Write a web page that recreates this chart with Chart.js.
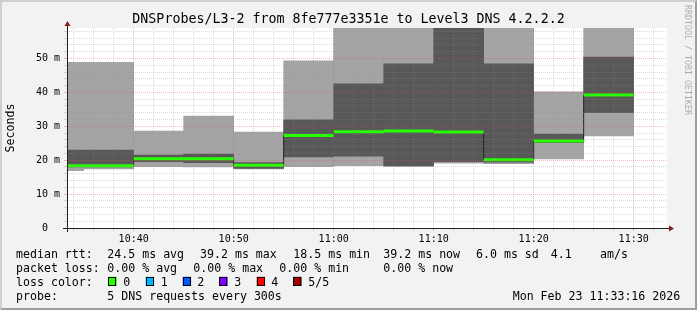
<!DOCTYPE html>
<html>
<head>
<meta charset="utf-8">
<script src="https://cdn.jsdelivr.net/npm/chart.js@4.4.1/dist/chart.umd.min.js"></script>
<style>
  html, body { margin: 0; padding: 0; background: #f2f2f2; }
  #wrap { width: 697px; height: 310px; position: relative; }
  canvas { display: block; }
</style>
</head>
<body>
<div id="wrap"><canvas id="c" width="697" height="310"></canvas></div>
<script>
// ---------- data ----------
const TITLE = 'DNSProbes/L3-2 from 8fe777e3351e to Level3 DNS 4.2.2.2';
const Y_TITLE = 'Seconds';
const STEP_SEC = 300;
const RANGE_START = '10:33:20';
const RANGE_END = '11:33:20';
const Y_MAX = 59;
const STEP_STARTS = ['10:30','10:35','10:40','10:45','10:50','10:55','11:00','11:05','11:10','11:15','11:20','11:25'];
const PING_MIN  = [16.9, 17.4, 18.1, 18.0, 17.4, 18.1, 18.4, 18.2, 19.1, 19.0, 20.4, 27.2];
const PING_LOW  = [18.0, 18.0, 19.6, 19.3, 17.6, 21.0, 21.2, 18.3, 19.6, 19.4, 25.2, 34.0];
const MEDIAN    = [18.4, 18.4, 20.4, 20.4, 18.5, 27.3, 28.4, 28.6, 28.3, 20.1, 25.7, 39.2];
const PING_HIGH = [23.0, 23.0, 21.5, 21.8, 19.3, 31.9, 42.5, 48.4, 61.5, 48.4, 27.7, 50.4];
const PING_MAX  = [48.9, 48.9, 28.6, 33.0, 28.3, 49.3, 61.0, 62.0, 63.0, 61.5, 40.2, 61.0];
const X_LABELS = ['10:40','10:50','11:00','11:10','11:20','11:30'];
const Y_LABELS = ['0','10 m','20 m','30 m','40 m','50 m'];
const LOSS_LABELS = ['0','1','2','3','4','5/5'];
const LOSS_COLORS = ['#26ff00','#00b8ff','#0059ff','#7e00ff','#ff0000','#a10000'];
const MEDIAN_RTT_LABEL = 'median rtt:';
const MEDIAN_RTT = ['24.5 ms avg','39.2 ms max','18.5 ms min','39.2 ms now','6.0 ms sd','4.1','am/s'];
const PACKET_LOSS_LABEL = 'packet loss:';
const PACKET_LOSS = ['0.00 % avg','0.00 % max','0.00 % min','0.00 % now'];
const LOSS_COLOR_LABEL = 'loss color:';
const PROBE_LABEL = 'probe:';
const PROBE = '5 DNS requests every 300s';
const STAMP = 'Mon Feb 23 11:33:16 2026';
const WATERMARK = 'RRDTOOL / TOBI OETIKER';

// ---------- helpers ----------
const toSec = s => s.split(':').reduce((a, v, i) => a + Number(v) * [3600, 60, 1][i], 0);
const fmtTime = v => { const h = Math.floor(v / 3600), m = Math.floor((v % 3600) / 60); return String(h).padStart(2,'0') + ':' + String(m).padStart(2,'0'); };
const MONO = '"DejaVu Sans Mono", monospace';

const band = (lo, hi) => STEP_STARTS.map((s, i) => ({ x: toSec(s) + STEP_SEC / 2, y: [lo[i], hi[i]] }));
const medianLine = STEP_STARTS.map((s, i) => ({ x: toSec(s), y: MEDIAN[i] }));
medianLine.push({ x: toSec(STEP_STARTS[STEP_STARTS.length - 1]) + STEP_SEC, y: MEDIAN[MEDIAN.length - 1] });
const greenLine = [];
STEP_STARTS.forEach((s, i) => {
  const t = toSec(s);
  greenLine.push({ x: t, y: MEDIAN[i] }, { x: t + STEP_SEC, y: MEDIAN[i] }, { x: t + STEP_SEC, y: null });
});

const MINOR = 'rgba(143,143,143,0.32)';
const MAJOR = 'rgba(222,79,79,0.38)';

const rrdPlugin = {
  id: 'rrd',
  beforeDraw(chart) {
    const { ctx, width: W, height: H, chartArea: a } = chart;
    ctx.save();
    ctx.fillStyle = '#f2f2f2';
    ctx.fillRect(0, 0, W, H);
    ctx.fillStyle = '#cfcfcf';
    ctx.beginPath();
    ctx.moveTo(0, H); ctx.lineTo(2, H - 2); ctx.lineTo(2, 2); ctx.lineTo(W - 2, 2); ctx.lineTo(W, 0); ctx.lineTo(0, 0);
    ctx.closePath(); ctx.fill();
    ctx.fillStyle = '#9e9e9e';
    ctx.beginPath();
    ctx.moveTo(2, H - 2); ctx.lineTo(W - 2, H - 2); ctx.lineTo(W - 2, 2); ctx.lineTo(W, 0); ctx.lineTo(W, H); ctx.lineTo(0, H);
    ctx.closePath(); ctx.fill();
    ctx.fillStyle = '#ffffff';
    ctx.fillRect(a.left, a.top, a.right - a.left, a.bottom - a.top);
    ctx.restore();
  },
  afterDraw(chart) {
    const { ctx, width: W, chartArea: a } = chart;
    ctx.save();
    // axes
    ctx.strokeStyle = '#1f1f1f';
    ctx.lineWidth = 1;
    ctx.beginPath();
    ctx.moveTo(a.left - 4, a.bottom + 0.5); ctx.lineTo(a.right + 4, a.bottom + 0.5);
    ctx.moveTo(a.left + 0.5, a.bottom + 4); ctx.lineTo(a.left + 0.5, a.top - 4);
    ctx.stroke();
    ctx.fillStyle = 'rgb(128,31,31)';
    ctx.beginPath();
    ctx.moveTo(a.right + 2, a.bottom + 0.5 - 3); ctx.lineTo(a.right + 2, a.bottom + 0.5 + 3); ctx.lineTo(a.right + 7, a.bottom + 0.5);
    ctx.closePath(); ctx.fill();
    ctx.beginPath();
    ctx.moveTo(a.left + 0.5 - 3, a.top - 2); ctx.lineTo(a.left + 0.5 + 3, a.top - 2); ctx.lineTo(a.left + 0.5, a.top - 7);
    ctx.closePath(); ctx.fill();

    // title
    ctx.fillStyle = '#000';
    ctx.font = '13.3px ' + MONO;
    ctx.textAlign = 'center';
    ctx.textBaseline = 'alphabetic';
    ctx.fillText(TITLE, W / 2, 23);

    // y title
    ctx.save();
    ctx.font = '11.6px ' + MONO;
    ctx.translate(10.5, (a.top + a.bottom) / 2);
    ctx.rotate(-Math.PI / 2);
    ctx.textAlign = 'center';
    ctx.textBaseline = 'middle';
    ctx.fillText(Y_TITLE, 0, 0);
    ctx.restore();

    // watermark
    ctx.save();
    ctx.font = '8.3px ' + MONO;
    ctx.fillStyle = 'rgba(0,0,0,0.3)';
    ctx.translate(W - 6, 5);
    ctx.rotate(Math.PI / 2);
    ctx.textAlign = 'left';
    ctx.textBaseline = 'top';
    ctx.fillText(WATERMARK, 0, 0);
    ctx.restore();

    // legend
    ctx.font = '11.6px ' + MONO;
    ctx.textAlign = 'left';
    ctx.textBaseline = 'alphabetic';
    ctx.fillStyle = '#000';
    const rows = [258, 272, 286, 300];
    ctx.fillText(MEDIAN_RTT_LABEL, 16, rows[0]);
    [107.3, 200, 293.3, 383.3, 476, 550.7, 600].forEach((x, i) => ctx.fillText(MEDIAN_RTT[i], x, rows[0]));
    ctx.fillText(PACKET_LOSS_LABEL, 16, rows[1]);
    [107.3, 193.3, 279.3, 383.3].forEach((x, i) => ctx.fillText(PACKET_LOSS[i], x, rows[1]));
    ctx.fillText(LOSS_COLOR_LABEL, 16, rows[2]);
    const bw = ctx.measureText('o').width * 1.2, bh = bw * 1.1;
    [108.3, 145.7, 182.7, 219.3, 256.7, 293.3].forEach((x, i) => {
      ctx.fillStyle = LOSS_COLORS[i];
      ctx.fillRect(x, rows[2] - bh, bw, bh);
      ctx.strokeStyle = '#000';
      ctx.lineWidth = 1;
      ctx.strokeRect(Math.round(x) + 0.5, Math.round(rows[2] - bh) + 0.5, Math.round(bw) - 1, Math.round(bh) - 1);
      ctx.fillStyle = '#000';
      ctx.fillText(LOSS_LABELS[i], [123.3, 160.7, 197.3, 234.3, 271.3, 308.3][i], rows[2]);
    });
    ctx.fillText(PROBE_LABEL, 16, rows[3]);
    ctx.fillText(PROBE, 107.3, rows[3]);
    ctx.fillText(STAMP, 512.7, rows[3]);
    ctx.restore();
  }
};

new Chart(document.getElementById('c'), {
  type: 'bar',
  data: {
    datasets: [
      { type: 'line', label: 'median (loss 0)', data: greenLine, borderColor: LOSS_COLORS[0], borderWidth: 3,
        pointRadius: 0, spanGaps: false, borderCapStyle: 'butt', clip: 0, order: 0 },
      { type: 'line', label: 'median', data: medianLine, borderColor: '#202020', borderWidth: 1,
        stepped: 'before', pointRadius: 0, clip: 0, order: 1 },
      { label: 'smoke inner', data: band(PING_LOW, PING_HIGH), backgroundColor: '#585858',
        grouped: false, barPercentage: 1, categoryPercentage: 1, borderWidth: 0, clip: 0, order: 2 },
      { label: 'smoke outer', data: band(PING_MIN, PING_MAX), backgroundColor: '#a4a4a4',
        grouped: false, barPercentage: 1, categoryPercentage: 1, borderWidth: 0, clip: 0, order: 3 }
    ]
  },
  options: {
    responsive: false,
    animation: false,
    devicePixelRatio: 1,
    layout: { padding: { left: 0, right: 30, top: 28, bottom: 62 } },
    plugins: { legend: { display: false }, tooltip: { enabled: false }, title: { display: false } },
    scales: {
      x: {
        type: 'linear', position: 'bottom', weight: 1,
        min: toSec(RANGE_START), max: toSec(RANGE_END), offset: false,
        afterFit: s => { s.height = 20; },
        afterBuildTicks: s => { s.ticks = X_LABELS.map(l => ({ value: toSec(l) })); },
        ticks: { callback: v => fmtTime(v), font: { family: 'DejaVu Sans Mono', size: 10 }, color: '#000',
                 padding: 2, maxRotation: 0, minRotation: 0, autoSkip: false },
        grid: { z: 1, offset: false, color: MAJOR, tickColor: MAJOR, tickLength: 3, lineWidth: 1 },
        border: { display: false, dash: [1, 1] }
      },
      x2: {
        type: 'linear', position: 'bottom', weight: 0,
        min: toSec(RANGE_START), max: toSec(RANGE_END), offset: false,
        afterFit: s => { s.height = 0; },
        afterBuildTicks: s => {
          const t = [];
          for (let v = Math.ceil(s.min / 120) * 120; v <= s.max; v += 120) if (v % 600 !== 0) t.push({ value: v });
          s.ticks = t;
        },
        ticks: { display: false },
        grid: { z: 1, offset: false, color: MINOR, tickColor: MINOR, tickLength: 3, lineWidth: 1 },
        border: { display: false, dash: [1, 1] }
      },
      y: {
        type: 'linear', position: 'left', min: 0, max: Y_MAX,
        afterFit: s => { s.width = 67; },
        afterBuildTicks: s => { const t = []; for (let v = 0; v <= Y_MAX; v += 2) t.push({ value: v }); s.ticks = t; },
        ticks: {
          callback: v => (v % 10 === 0 ? (Y_LABELS[v / 10].length < 4 ? Y_LABELS[v / 10] + '  ' : Y_LABELS[v / 10]) : ''),
          font: { family: 'DejaVu Sans Mono', size: 10 }, color: '#000', padding: 4, autoSkip: false
        },
        grid: {
          z: 1,
          color: c => (c.tick && c.tick.value % 10 === 0 ? MAJOR : MINOR),
          tickColor: c => (c.tick && c.tick.value % 10 === 0 ? MAJOR : MINOR),
          tickLength: 3, lineWidth: 1
        },
        border: { display: false, dash: [1, 1] }
      }
    }
  },
  plugins: [rrdPlugin]
});
</script>
</body>
</html>
